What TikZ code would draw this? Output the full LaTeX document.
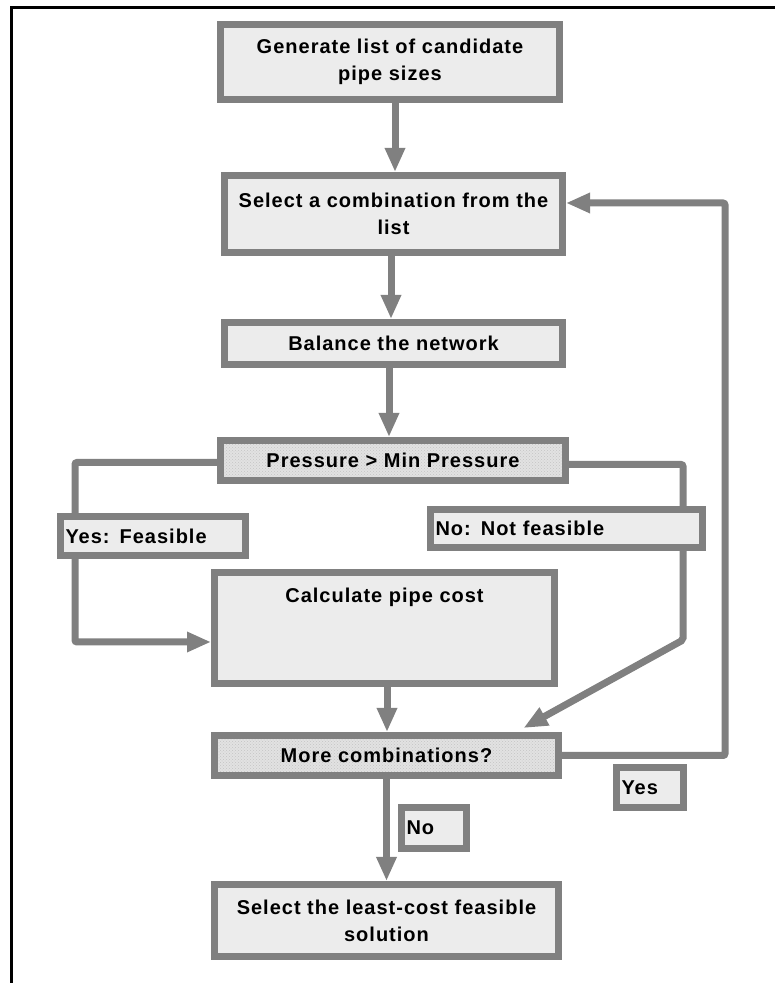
\documentclass[tikz,border=0pt]{standalone}
\usepackage{fontspec}
\usepackage{xcolor}
\usetikzlibrary{arrows.meta, patterns}
\newfontfamily\boxfont{Liberation Sans}[LetterSpace=5.0]
\definecolor{ink}{HTML}{000000}
\definecolor{boxA}{HTML}{ECECEC}
\definecolor{dotA}{HTML}{E2E2E2}
\definecolor{dotB}{HTML}{C4C4C4}
\definecolor{grayB}{HTML}{808080}
\tikzset{
  boxtext/.style={font=\boxfont\bfseries\fontsize{20}{27}\selectfont, text=ink},
  box/.style={boxtext, draw=grayB, line width=7pt, fill=boxA, align=center, inner sep=4pt},
  dotbox/.style={box, fill=none, preaction={fill=dotA}, pattern=crosshatch dots, pattern color=dotB},
  tagbox/.style={box, align=left, inner xsep=5pt},
  link/.style={draw=grayB, line width=7pt, rounded corners=2pt},
  flow/.style={link, -{Triangle[length=24pt, width=19pt]}},
  frame/.style={draw=black, line width=3.5pt}
}

\begin{document}
\begin{tikzpicture}[x=1pt,y=1pt]
\useasboundingbox (0,0) rectangle (775,983);

\draw[frame] (775,975.5) -| (11.5,0);

% main column
\node[box, minimum width=339pt, minimum height=75pt, anchor=north west] (gen) at (217,962)
{Generate list of candidate\\pipe sizes};
\node[box, minimum width=338pt, minimum height=77pt, anchor=north west] (sel) at (221,811)
{Select a combination from the\\list};
\node[box, minimum width=338pt, minimum height=42pt, anchor=north west] (bal) at (221,664)
{Balance the network};
\node[dotbox, minimum width=345pt, minimum height=40pt, anchor=north west] (press) at (217,546)
{Pressure > Min Pressure};
\node[box, minimum width=340pt, minimum height=111pt, text height=14pt, text depth=64pt, anchor=north west] (calc) at (211,414)
{Calculate pipe cost};
\node[dotbox, minimum width=344pt, minimum height=40pt, anchor=north west] (more) at (211,251)
{More combinations?};
\node[box, minimum width=344pt, minimum height=72pt, anchor=north west] (final) at (211,102)
{Select the least-cost feasible\\solution};

% answer tags
\node[tagbox, text width=175pt, minimum height=39pt, anchor=north west] (yesf) at (57,470) {Yes: Feasible};
\node[tagbox, text width=262pt, minimum height=38pt, anchor=north west] (nof) at (427,477) {No: Not feasible};
\node[tagbox, text width=57pt, minimum height=40pt, anchor=north west] (yes) at (613,219) {Yes};
\node[tagbox, text width=55pt, minimum height=41pt, anchor=north west] (no) at (398,179) {No};

% connectors
\draw[flow] ([xshift=5pt]gen.south) -- ([xshift=5pt]gen.south |- sel.north);
\draw[flow] ([xshift=-2.5pt]sel.south) -- ([xshift=-2.5pt]sel.south |- bal.north);
\draw[flow] ([xshift=-4.5pt]bal.south) -- ([xshift=-4.5pt]bal.south |- press.north);
\draw[link] ([yshift=-2pt]press.west) -| ([xshift=18pt]yesf.north west);
\draw[flow] ([xshift=18pt]yesf.south west) |- ([yshift=-14pt]calc.west);
\draw[link] ([yshift=-4pt]press.east) -| ([xshift=-23pt]nof.north east);
\draw[flow] ([xshift=-23pt]nof.south east) -- ++(0,-89) -- ([xshift=137pt,yshift=4pt]more.north);
\draw[flow] ([xshift=2.5pt]calc.south) -- ([xshift=2.5pt]calc.south |- more.north);
\draw[flow] (more.east) -- ++(163,0) |- ([yshift=11pt]sel.east);
\draw[flow] (more.south) -- (more.south |- final.north);

\end{tikzpicture}
\end{document}
